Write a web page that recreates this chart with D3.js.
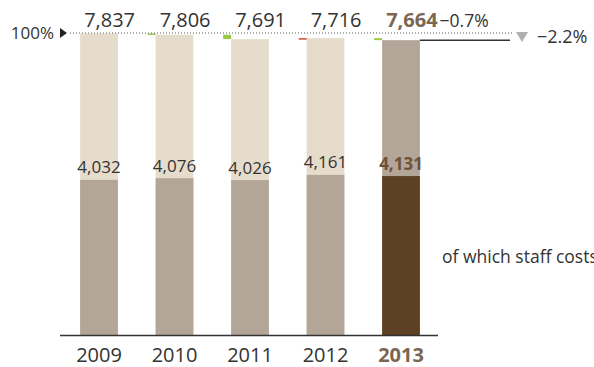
<!DOCTYPE html>
<html>
<head>
<meta charset="utf-8">
<script src="https://cdn.jsdelivr.net/npm/d3@7"></script>
<style>
  body { margin: 0; background: #fff; }
  text { font-family: "Open Sans", sans-serif; fill: #333; }
</style>
</head>
<body>
<div id="chart"></div>
<script>
const years = ["2009", "2010", "2011", "2012", "2013"];
const totals = [7837, 7806, 7691, 7716, 7664];
const staffCosts = [4032, 4076, 4026, 4161, 4131];
const changeLastYear = "\u22120.7%";
const changeOverall = "\u22122.2%";
const seriesLabel = "of which staff costs";

const width = 594;
const height = 367;
const baseY = 335;
const topY = 33.5;

const svg = d3.select("#chart")
  .append("svg")
  .attr("width", width)
  .attr("height", height);

const x = d3.scaleBand()
  .domain(years)
  .range([61.25, 438.75])
  .paddingInner(0.5)
  .paddingOuter(0.25);

const y = d3.scaleLinear()
  .domain([0, d3.max(totals)])
  .range([baseY, topY]);

const last = years.length - 1;
const fmt = d3.format(",");

const rows = years.map((yr, i) => ({ year: yr, total: totals[i], staff: staffCosts[i], i }));

// upper (total) part
svg.selectAll(".total")
  .data(rows)
  .enter()
  .append("rect")
  .attr("class", "total")
  .attr("x", d => x(d.year))
  .attr("width", x.bandwidth())
  .attr("y", d => y(d.total))
  .attr("height", d => baseY - y(d.total))
  .attr("fill", d => d.i === last ? "#b3a698" : "#e6dccb");

// lower (staff costs) part
svg.selectAll(".staff")
  .data(rows)
  .enter()
  .append("rect")
  .attr("class", "staff")
  .attr("x", d => x(d.year))
  .attr("width", x.bandwidth())
  .attr("y", d => y(d.staff))
  .attr("height", d => baseY - y(d.staff))
  .attr("fill", d => d.i === last ? "#5e4022" : "#b3a698");

// change markers left of each bar
svg.selectAll(".delta")
  .data(rows.slice(1))
  .enter()
  .append("rect")
  .attr("class", "delta")
  .attr("x", d => x(d.year) - 8)
  .attr("width", 8)
  .attr("y", d => Math.min(y(totals[d.i - 1]), y(d.total)))
  .attr("height", d => Math.max(1.5, Math.abs(y(totals[d.i - 1]) - y(d.total))))
  .attr("fill", d => d.total < totals[d.i - 1] ? "#9dc84b" : "#d2462e");

// 100% reference line
svg.append("line")
  .attr("x1", 70).attr("x2", 512)
  .attr("y1", 33).attr("y2", 33)
  .attr("stroke", "#555")
  .attr("stroke-width", 1)
  .attr("stroke-dasharray", "1,2");

svg.append("path")
  .attr("d", "M60,28 L67,33 L60,38 Z")
  .attr("fill", "#222");

svg.append("text")
  .attr("x", 54).attr("y", 39)
  .attr("text-anchor", "end")
  .style("font-size", "17px")
  .text("100%");

// current level line
svg.append("line")
  .attr("x1", x(years[last]) + x.bandwidth()).attr("x2", 510)
  .attr("y1", y(totals[last])).attr("y2", y(totals[last]))
  .attr("stroke", "#333")
  .attr("stroke-width", 1.5);

svg.append("path")
  .attr("d", "M516,32 L528,32 L522,42 Z")
  .attr("fill", "#b0b0b0");

svg.append("text")
  .attr("x", 537).attr("y", 43)
  .style("font-size", "18px")
  .text(changeOverall);

// total labels
const totalLabels = svg.selectAll(".totalLabel")
  .data(rows)
  .enter()
  .append("text")
  .attr("class", "totalLabel")
  .attr("x", d => x(d.year) + 4)
  .attr("y", 27)
  .style("font-size", "20px");

totalLabels.append("tspan")
  .text(d => fmt(d.total))
  .style("font-weight", d => d.i === last ? "bold" : null)
  .style("fill", d => d.i === last ? "#7b6652" : null);

totalLabels.filter(d => d.i === last)
  .append("tspan")
  .attr("dx", 2)
  .style("font-size", "17.5px")
  .text(changeLastYear);

// staff cost labels
svg.selectAll(".staffLabel")
  .data(rows)
  .enter()
  .append("text")
  .attr("class", "staffLabel")
  .attr("x", d => x(d.year) + x.bandwidth() / 2)
  .attr("y", d => y(d.staff) - 6.5)
  .attr("text-anchor", "middle")
  .style("font-size", "17px")
  .style("font-weight", d => d.i === last ? "bold" : null)
  .style("fill", d => d.i === last ? "#6e5238" : null)
  .text(d => fmt(d.staff));

// x axis
const axis = svg.append("g")
  .attr("transform", `translate(0,${baseY})`)
  .call(d3.axisBottom(x).tickSize(0).tickPadding(13));

axis.select(".domain")
  .attr("d", "M60,0.5H438")
  .attr("stroke", "#333")
  .attr("stroke-width", 1.5);

axis.selectAll(".tick text")
  .style("font-family", "'Open Sans', sans-serif")
  .style("font-size", "20px")
  .style("fill", d => d === years[last] ? "#7b6652" : "#333")
  .style("font-weight", d => d === years[last] ? "bold" : null);

svg.append("text")
  .attr("x", 442).attr("y", 263)
  .style("font-size", "17.5px")
  .text(seriesLabel);
</script>
</body>
</html>
